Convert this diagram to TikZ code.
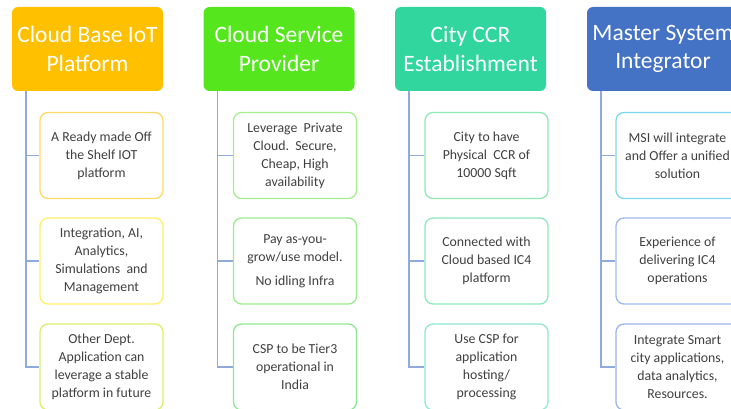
\documentclass[tikz,border=0pt]{standalone}
\usepackage{fontspec}
\setmainfont{Carlito}
\definecolor{hdorange}{HTML}{FFC000}
\definecolor{hdgreen}{HTML}{55E61E}
\definecolor{hdteal}{HTML}{30D69E}
\definecolor{hdblue}{HTML}{4472C4}
\definecolor{linkblue}{HTML}{8FAADC}
\definecolor{txtgray}{HTML}{404040}
% item borders
\definecolor{bdA}{HTML}{FFD966}
\definecolor{bdB}{HTML}{FFF06A}
\definecolor{bdC}{HTML}{D9F26B}
\definecolor{bdD}{HTML}{A6EE8E}
\definecolor{bdE}{HTML}{9AEC8C}
\definecolor{bdF}{HTML}{8EEA92}
\definecolor{bdG}{HTML}{90E8B2}
\definecolor{bdH}{HTML}{8EE8C0}
\definecolor{bdI}{HTML}{8EE8D2}
\definecolor{bdJ}{HTML}{7FD8EA}
\definecolor{bdK}{HTML}{9DBAEA}
\definecolor{bdL}{HTML}{9DB4E8}
\begin{document}
\begin{tikzpicture}[x=1pt, y=-1pt,
  head/.style={fill=#1, draw=none, rounded corners=6pt, minimum width=151pt,
    minimum height=84pt, text=white, align=center,
    font=\fontsize{23.5}{28.5}\selectfont},
  item/.style={draw=#1, line width=1.3pt, fill=white, rounded corners=8pt,
    minimum width=123pt, minimum height=86pt, text=txtgray, align=center,
    font=\fontsize{13.8}{18}\selectfont},
  link/.style={draw=linkblue, line width=1.4pt}]
\useasboundingbox (0,0) rectangle (731,409);

% column heads
\node[head=hdorange] (h1) at (87.5,49) {Cloud Base IoT\\Platform};
\node[head=hdgreen] (h2) at (279,49) {Cloud Service\\Provider};
\node[head=hdteal] (h3) at (470.5,49) {City CCR\\Establishment};
\node[head=hdblue, minimum width=152pt] (h4) at (663,49) {Master System\\Integrator};

% column 1
\node[item=bdA] (c11) at (101.5,155.5) {A Ready made Off\\the Shelf IOT\\platform};
\node[item=bdB] (c12) at (101.5,261) {Integration, AI,\\Analytics,\\Simulations\ \ and\\Management};
\node[item=bdC] (c13) at (101.5,367) {Other Dept.\\Application can\\leverage a stable\\platform in future};

% column 2
\node[item=bdD] (c21) at (295,155.5) {Leverage\ \ Private\\Cloud.\ \ Secure,\\Cheap,\ High\\availability};
\node[item=bdE] (c22) at (295,261) {Pay as-you-\\grow/use\ model.\\[6pt]No idling Infra};
\node[item=bdF] (c23) at (295,367) {CSP to be Tier3\\operational in\\India};

% column 3
\node[item=bdG] (c31) at (486.5,155.5) {City to have\\Physical\ \ CCR of\\10000 Sqft};
\node[item=bdH] (c32) at (486.5,261) {Connected\ with\\Cloud based IC4\\platform};
\node[item=bdI] (c33) at (486.5,367) {Use CSP for\\application\\hosting/\\processing};

% column 4
\node[item=bdJ] (c41) at (677.5,155.5) {MSI will integrate\\and Offer a unified\\solution};
\node[item=bdK] (c42) at (677.5,261) {Experience\ of\\delivering IC4\\operations};
\node[item=bdL] (c43) at (677.5,367) {Integrate Smart\\city applications,\\data analytics,\\Resources.};

% connectors
\foreach \c in {1,2,3,4}{
  \foreach \r in {1,2,3}{
    \draw[link] ([xshift=14pt]h\c.south west) |- (c\c\r.west);
  }
}
\end{tikzpicture}
\end{document}
